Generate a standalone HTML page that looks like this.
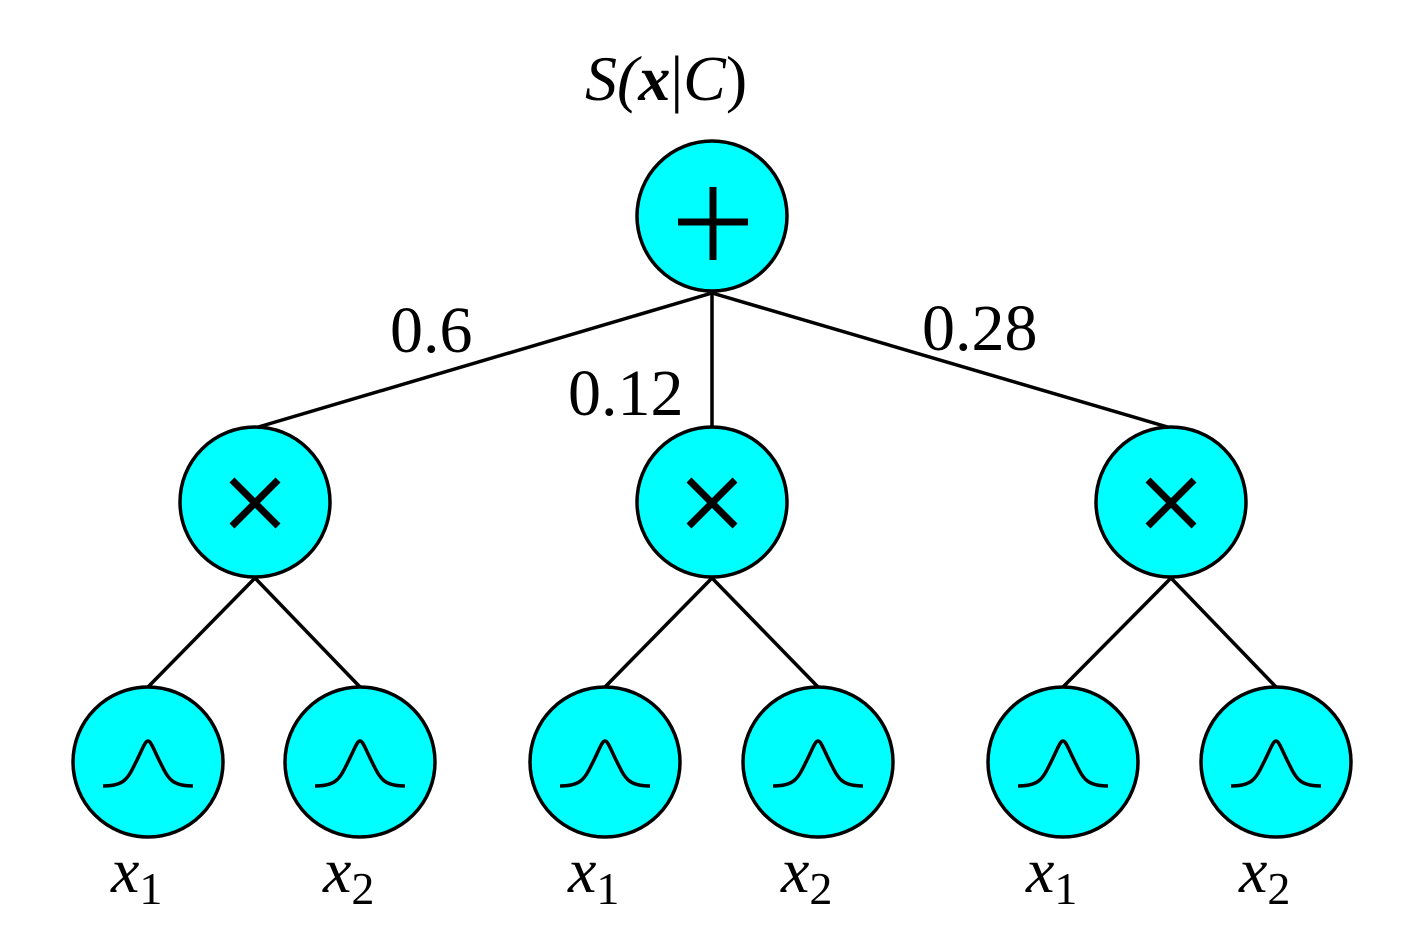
<!DOCTYPE html>
<html><head><meta charset="utf-8"><style>
html,body{margin:0;padding:0;background:#fff;}
</style></head><body>
<svg width="1417" height="945" viewBox="0 0 1417 945" xmlns="http://www.w3.org/2000/svg">
<g stroke="#000" stroke-width="3.5" fill="none">
<line x1="712" y1="293" x2="255" y2="428"/>
<line x1="712" y1="293" x2="712" y2="428"/>
<line x1="712" y1="293" x2="1171" y2="428"/>
<line x1="255" y1="578" x2="148" y2="687"/>
<line x1="255" y1="578" x2="360" y2="687"/>
<line x1="712" y1="578" x2="605" y2="687"/>
<line x1="712" y1="578" x2="818" y2="687"/>
<line x1="1171" y1="578" x2="1063" y2="687"/>
<line x1="1171" y1="578" x2="1276" y2="687"/>
</g>
<g fill="#00ffff" stroke="#000" stroke-width="3.5">
<circle cx="712" cy="216" r="75"/>
<circle cx="255" cy="502" r="75"/>
<circle cx="712" cy="502" r="75"/>
<circle cx="1171" cy="502" r="75"/>
<circle cx="148" cy="762" r="75"/>
<circle cx="360" cy="762" r="75"/>
<circle cx="605" cy="762" r="75"/>
<circle cx="818" cy="762" r="75"/>
<circle cx="1063" cy="762" r="75"/>
<circle cx="1276" cy="762" r="75"/>
</g>
<g stroke="#000" stroke-width="7" fill="none">
<line x1="678" y1="222" x2="748" y2="222"/>
<line x1="713" y1="187" x2="713" y2="260"/>
<path d="M232 480 L278 526 M278 480 L232 526"/>
<path d="M689 480 L735 526 M735 480 L689 526"/>
<path d="M1148 480 L1194 526 M1194 480 L1148 526"/>
</g>
<g id="g" stroke="#000" stroke-width="3.5" fill="none">
<path d="M103 786 C125 786 128 778 136 762 C143 748 145 741 148 741 C151 741 153 748 160 762 C168 778 171 786 193 786"/>
</g>
<use href="#g" x="212"/>
<use href="#g" x="457"/>
<use href="#g" x="670"/>
<use href="#g" x="915"/>
<use href="#g" x="1128"/>
<g font-family="Liberation Serif, serif" font-size="66" fill="#000">
<text x="390" y="352">0.6</text>
<text x="568" y="415">0.12</text>
<text x="922" y="350">0.28</text>
</g>
<text x="585" y="100" font-family="Liberation Serif, serif" font-size="64" font-style="italic">S(<tspan font-weight="bold">x</tspan><tspan font-style="normal">|</tspan>C<tspan font-style="normal">)</tspan></text>
<g font-family="Liberation Serif, serif" font-size="64" fill="#000">
<text x="111" y="892" font-style="italic">x<tspan font-style="normal" font-size="46" dy="12">1</tspan></text>
<text x="323" y="892" font-style="italic">x<tspan font-style="normal" font-size="46" dy="12">2</tspan></text>
<text x="568" y="892" font-style="italic">x<tspan font-style="normal" font-size="46" dy="12">1</tspan></text>
<text x="781" y="892" font-style="italic">x<tspan font-style="normal" font-size="46" dy="12">2</tspan></text>
<text x="1026" y="892" font-style="italic">x<tspan font-style="normal" font-size="46" dy="12">1</tspan></text>
<text x="1239" y="892" font-style="italic">x<tspan font-style="normal" font-size="46" dy="12">2</tspan></text>
</g>
</svg>
</body></html>
